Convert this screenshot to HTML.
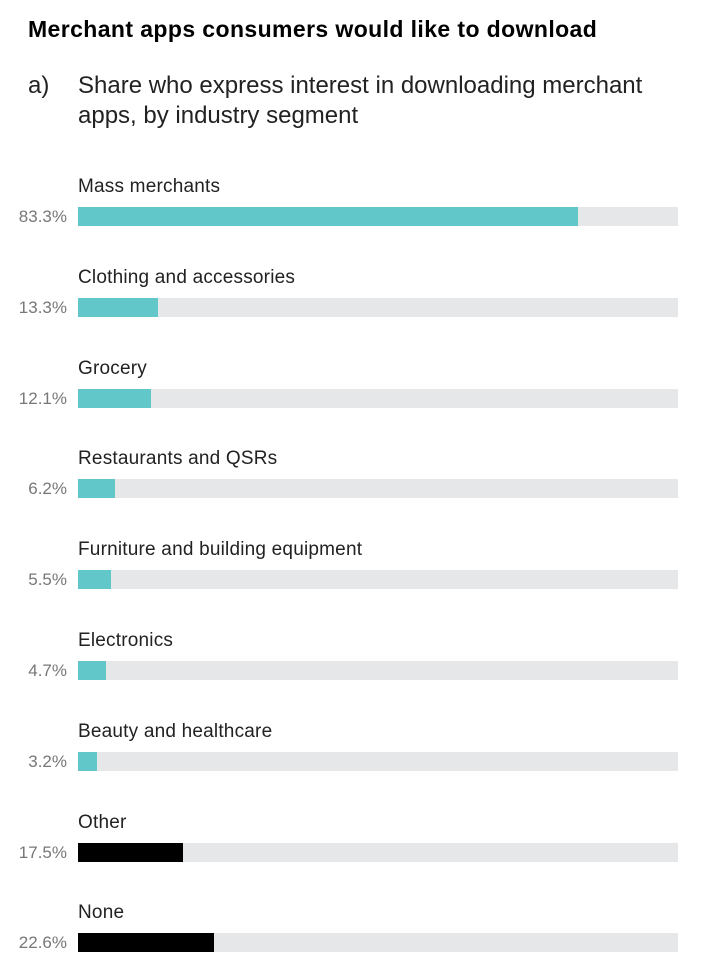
<!DOCTYPE html>
<html><head><meta charset="utf-8"><style>
body{margin:0;width:716px;height:974px;background:#fff;font-family:"Liberation Sans",sans-serif;position:relative;overflow:hidden}
.t{position:absolute;left:28px;top:16px;font-size:23px;font-weight:bold;color:#000;letter-spacing:0.4px}
.s{position:absolute;top:71px;font-size:24px;color:#222;line-height:30px}
.lab{position:absolute;left:78px;font-size:19px;color:#222;letter-spacing:0.2px}
.pct{position:absolute;right:649px;font-size:17px;color:#777;text-align:right}
.track{position:absolute;left:78px;width:600px;height:19px;background:#e6e7e9}
.bar{position:absolute;left:0;top:0;height:19px}
</style></head><body>
<div class="t">Merchant apps consumers would like to download</div>
<div class="s" style="left:28px">a)</div>
<div class="s" style="left:78px;width:580px">Share who express interest in downloading merchant apps, by industry segment</div>
<div id="chart"></div>
<script>
const categories=["Mass merchants","Clothing and accessories","Grocery","Restaurants and QSRs","Furniture and building equipment","Electronics","Beauty and healthcare","Other","None"];
const values=[83.3,13.3,12.1,6.2,5.5,4.7,3.2,17.5,22.6];
const highlight=[0,0,0,0,0,0,0,1,1];
const c=document.getElementById('chart');
function x(v){return v/100*600;}
categories.forEach((cat,i)=>{
  const y=207+i*90.8;
  const l=document.createElement('div');l.className='lab';l.style.top=(y-31)+'px';l.textContent=cat;
  
  
  c.appendChild(l);
  const p=document.createElement('div');p.className='pct';p.style.top=(y)+'px';p.textContent=values[i].toFixed(1)+'%';
  
  
  c.appendChild(p);
  const t=document.createElement('div');t.className='track';t.style.top=y+'px';
  
  
  const b=document.createElement('div');b.className='bar';b.style.width=x(values[i])+'px';b.style.background=highlight[i]?'#000':'#62c7c8';
  
  
  t.appendChild(b);c.appendChild(t);
});
</script>
</body></html>
